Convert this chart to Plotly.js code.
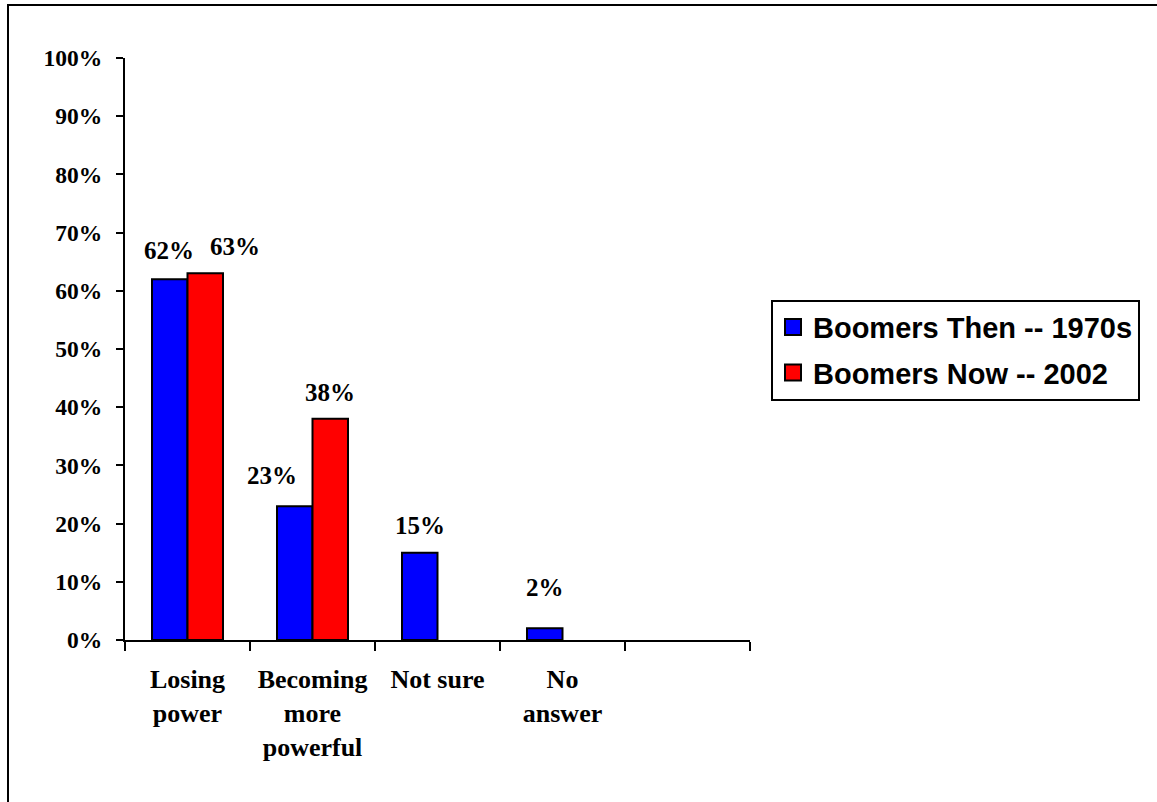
<!DOCTYPE html>
<html>
<head>
<meta charset="utf-8">
<script src="https://cdn.plot.ly/plotly-3.0.1.min.js"></script>
<style>
  html, body { margin: 0; padding: 0; width: 1157px; height: 802px; overflow: hidden; background: #fff; }
  #frame { position: absolute; left: 7px; top: 4px; width: 1300px; height: 1000px; border: 2px solid #000; box-sizing: border-box; }
  #chart { position: absolute; left: 0; top: 0; width: 1157px; height: 802px; }
</style>
</head>
<body>
<div id="frame"></div>
<div id="chart"></div>
<script>
// ---- data ----
const categories = ["Losing<br>power", "Becoming<br>more<br>powerful", "Not sure", "No<br>answer", " "];
const seriesNames = ["Boomers Then -- 1970s", "Boomers Now -- 2002"];
const thenValues = [0.62, 0.23, 0.15, 0.02, null];
const nowValues  = [0.63, 0.38, null, null, null];
const yTickVals = [0, 0.1, 0.2, 0.3, 0.4, 0.5, 0.6, 0.7, 0.8, 0.9, 1.0];
const yTickText = ["0%", "10%", "20%", "30%", "40%", "50%", "60%", "70%", "80%", "90%", "100%"];

// ---- style ----
const colors = ["#0000FF", "#FF0000"];
const serif = "Liberation Serif, Times New Roman, serif";
const sans = "Liberation Sans, Arial, sans-serif";
const barHalf = 17.75;             // px offset of each bar from category centre
const thenNudgeX = [-1, -23, 0, 0, 0];
const nowNudgeX  = [30, 0, 0, 0, 0];
const thenGap = [20, 22, 19, 32, 0];
const nowGap  = [18, 18, 0, 0, 0];
const baseShift = 12;

const barTraces = [thenValues, nowValues].map((vals, k) => ({
  type: "bar",
  name: seriesNames[k],
  x: categories,
  y: vals,
  marker: { color: colors[k], line: { color: "#000", width: 2 } },
  showlegend: false,
  hoverinfo: "skip"
}));

// legend proxies (no data drawn)
const legendTraces = seriesNames.map((n, k) => ({
  type: "scatter",
  mode: "markers",
  name: n,
  x: [null], y: [null],
  legendgroup: "g" + k,
  marker: { symbol: "square", size: 16, color: colors[k], line: { color: "#000", width: 2 } }
}));

const annotations = [];
[[thenValues, -barHalf, thenNudgeX, thenGap], [nowValues, barHalf, nowNudgeX, nowGap]].forEach(([vals, off, nx, gp]) => {
  vals.forEach((v, i) => {
    if (v === null) return;
    annotations.push({
      x: categories[i], y: v, xref: "x", yref: "y",
      text: Math.round(v * 100) + "%",
      showarrow: false,
      xanchor: "center", yanchor: "bottom",
      xshift: off + nx[i],
      yshift: baseShift + (gp[i] - 19),
      font: { family: serif, size: 25, color: "#000", weight: "bold" }
    });
  });
});

const layout = {
  width: 1157, height: 802,
  margin: { l: 125, r: 407, t: 58, b: 162, pad: 0 },
  paper_bgcolor: "rgba(0,0,0,0)",
  plot_bgcolor: "rgba(0,0,0,0)",
  barmode: "group",
  bargap: 0.432,
  bargroupgap: 0,
  showlegend: true,
  legend: {
    x: 1.0336, xanchor: "left",
    y: 0.585, yanchor: "top",
    bordercolor: "#000", borderwidth: 2,
    bgcolor: "#fff",
    traceorder: "grouped",
    tracegroupgap: 5,
    font: { family: sans, size: 29, color: "#000", weight: "bold" }
  },
  xaxis: {
    type: "category",
    categoryorder: "array",
    categoryarray: categories,
    range: [-0.5, 4.5],
    showline: true, linecolor: "#000", linewidth: 2,
    ticks: "outside", tickson: "boundaries", ticklen: 9, tickwidth: 2, tickcolor: "#000",
    showgrid: false, zeroline: false,
    ticklabelstandoff: 15,
    tickfont: { family: serif, size: 26, color: "#000", weight: "bold" },
    fixedrange: true
  },
  yaxis: {
    range: [0, 1],
    tickmode: "array", tickvals: yTickVals, ticktext: yTickText,
    showline: true, linecolor: "#000", linewidth: 2,
    ticks: "outside", ticklen: 7, tickwidth: 2, tickcolor: "#000",
    showgrid: false, zeroline: false,
    ticklabelstandoff: 9,
    tickfont: { family: serif, size: 23.5, color: "#000", weight: "bold" },
    fixedrange: true
  },
  annotations: annotations
};

Plotly.newPlot("chart", barTraces.concat(legendTraces), layout, { displayModeBar: false, staticPlot: true });
</script>
</body>
</html>
